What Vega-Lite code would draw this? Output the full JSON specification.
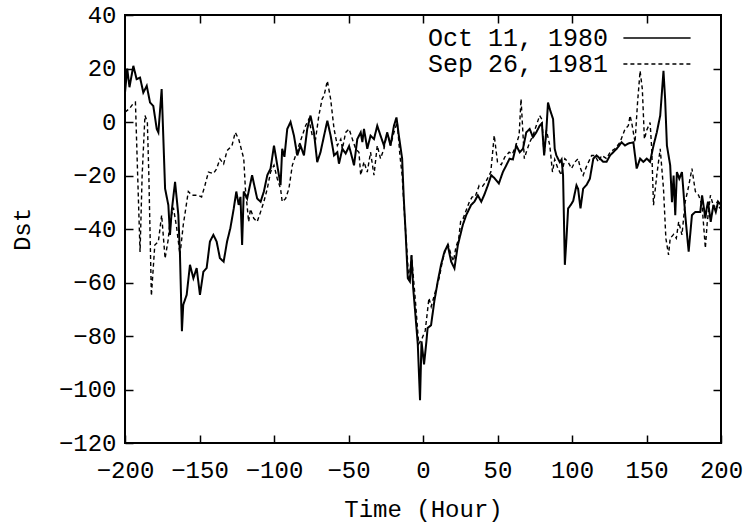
{
 "$schema": "https://vega.github.io/schema/vega-lite/v6.json",
 "width": 596, "height": 428,
 "autosize": {"type": "none"},
 "padding": {"left": 125, "top": 15, "right": 23, "bottom": 85},
 "background": "white",
 "config": {
  "view": {"stroke": "black", "strokeWidth": 2},
  "font": "Liberation Mono",
  "axis": {"domain": false, "grid": false, "tickSize": -8, "tickColor": "black", "tickWidth": 1.5,
           "labelFont": "Liberation Mono", "labelFontSize": 24, "labelColor": "black", "labelOverlap": false, "labelFlush": false,
           "titleFont": "Liberation Mono", "titleFontSize": 24, "titleFontWeight": "normal", "titleColor": "black"}
 },
 "datasets": {
  "oct": [
   {"t":-200,"v":11},{"t":-198.5,"v":20},{"t":-197,"v":13},{"t":-194.4,"v":21},{"t":-192.2,"v":16},{"t":-189.9,"v":16.6},{"t":-187.7,"v":11},{"t":-185.4,"v":13.5},{"t":-183.2,"v":7.3},{"t":-181,"v":6},{"t":-178.7,"v":-2.6},{"t":-177.6,"v":-3.9},{"t":-175.4,"v":12.3},{"t":-173.1,"v":-24.9},{"t":-170.9,"v":-31.1},{"t":-169.8,"v":-42.2},{"t":-168.7,"v":-33.6},{"t":-166.4,"v":-22.4},{"t":-164.2,"v":-34.8},{"t":-163.1,"v":-49.7},{"t":-161.8,"v":-78.2},{"t":-160.9,"v":-68.3},{"t":-158.6,"v":-64.6},{"t":-156.4,"v":-53.4},{"t":-154.1,"v":-58.4},{"t":-151.9,"v":-54.6},{"t":-149.7,"v":-64.6},{"t":-147.4,"v":-56},{"t":-145.2,"v":-54.6},{"t":-143,"v":-44.7},{"t":-140.7,"v":-42.2},{"t":-138.5,"v":-44.7},{"t":-136.3,"v":-50.9},{"t":-133.8,"v":-52.2},{"t":-131.5,"v":-44.7},{"t":-129.3,"v":-39.7},{"t":-127,"v":-32.3},{"t":-125.3,"v":-26},{"t":-123.7,"v":-31},{"t":-122.5,"v":-28},{"t":-121.4,"v":-46},{"t":-120.3,"v":-26},{"t":-118,"v":-28.6},{"t":-114.7,"v":-19.9},{"t":-111.3,"v":-28.6},{"t":-109,"v":-29.8},{"t":-106.8,"v":-26},{"t":-104.5,"v":-19.9},{"t":-102.3,"v":-17.4},{"t":-100,"v":-8.8},{"t":-97.8,"v":-16.2},{"t":-95.6,"v":-23.6},{"t":-94.5,"v":-10},{"t":-93,"v":-13},{"t":-91.1,"v":-2.6},{"t":-88.9,"v":0},{"t":-86.6,"v":-5.1},{"t":-84.4,"v":-12.5},{"t":-82.2,"v":-8.8},{"t":-79.9,"v":-12.5},{"t":-77.7,"v":-2.6},{"t":-75.5,"v":2.4},{"t":-73.2,"v":-3.9},{"t":-71,"v":-15},{"t":-68.8,"v":-11.3},{"t":-66.4,"v":-5.1},{"t":-64.2,"v":0.5},{"t":-62,"v":-5.1},{"t":-59.7,"v":-12.5},{"t":-57.5,"v":-11.3},{"t":-56.4,"v":-15.6},{"t":-54.1,"v":-10},{"t":-51.9,"v":-11.8},{"t":-49.6,"v":-9},{"t":-47.4,"v":-13.7},{"t":-46.3,"v":-16.2},{"t":-44.1,"v":-6.4},{"t":-41.8,"v":-3.9},{"t":-40.7,"v":-7.5},{"t":-39.6,"v":-2.6},{"t":-37.4,"v":-10},{"t":-35.2,"v":-5.1},{"t":-32.9,"v":-6.4},{"t":-30.7,"v":-1.4},{"t":-28.5,"v":-5.1},{"t":-26.2,"v":-8.8},{"t":-24,"v":-3.9},{"t":-21.8,"v":-8.8},{"t":-19.5,"v":-1.4},{"t":-17.8,"v":1.7},{"t":-16.2,"v":-5.1},{"t":-14,"v":-13.7},{"t":-12.9,"v":-28.6},{"t":-11.7,"v":-41},{"t":-10.2,"v":-58.4},{"t":-8.8,"v":-59.6},{"t":-7.7,"v":-49.7},{"t":-6.6,"v":-62},{"t":-5.1,"v":-72},{"t":-3.5,"v":-83},{"t":-2,"v":-104},{"t":-1,"v":-82},{"t":0.7,"v":-90.6},{"t":2.3,"v":-82},{"t":3.1,"v":-77},{"t":5.4,"v":-76},{"t":7.6,"v":-67},{"t":9.9,"v":-59.6},{"t":12.1,"v":-53.4},{"t":14.4,"v":-48.5},{"t":16.6,"v":-46},{"t":18.9,"v":-52.2},{"t":21.1,"v":-54.7},{"t":23.4,"v":-46},{"t":26.7,"v":-38.5},{"t":29,"v":-34.8},{"t":32.3,"v":-31},{"t":34.5,"v":-29.8},{"t":36.8,"v":-27.4},{"t":39.1,"v":-29.8},{"t":41.3,"v":-27},{"t":43.5,"v":-23.7},{"t":45.8,"v":-19.9},{"t":48,"v":-21},{"t":50.9,"v":-23},{"t":53.6,"v":-18.7},{"t":55.9,"v":-16.2},{"t":58.1,"v":-13.7},{"t":60.3,"v":-14},{"t":62.6,"v":-8.8},{"t":64.9,"v":-11.3},{"t":67.1,"v":-10},{"t":69.3,"v":-3.9},{"t":71.6,"v":-2.6},{"t":73.8,"v":-5.7},{"t":76,"v":-3.9},{"t":78.3,"v":-1.4},{"t":79.8,"v":-0.5},{"t":81.3,"v":-12.5},{"t":82.8,"v":-3},{"t":83.9,"v":7.3},{"t":85.1,"v":4.8},{"t":87.3,"v":1.1},{"t":88.4,"v":-10},{"t":89.5,"v":-12.5},{"t":91.8,"v":-15},{"t":93,"v":-14},{"t":94,"v":-19.9},{"t":95.2,"v":-53.4},{"t":96.3,"v":-43.5},{"t":97.4,"v":-32.3},{"t":99.2,"v":-31},{"t":100.8,"v":-29.5},{"t":103,"v":-23.7},{"t":104.1,"v":-25},{"t":105.7,"v":-32.3},{"t":107.5,"v":-24.9},{"t":109.8,"v":-23.5},{"t":112,"v":-21.2},{"t":114.3,"v":-13.7},{"t":116.5,"v":-12.5},{"t":118.8,"v":-13.7},{"t":121,"v":-14.9},{"t":123.2,"v":-14.9},{"t":125.5,"v":-12.5},{"t":127.7,"v":-11.3},{"t":130,"v":-10},{"t":133.3,"v":-7.6},{"t":135.6,"v":-8.8},{"t":138,"v":-8},{"t":141.2,"v":-7.6},{"t":143.4,"v":-17.4},{"t":145.7,"v":-13.7},{"t":147.9,"v":-14.9},{"t":150.2,"v":-13.7},{"t":152.4,"v":-14.9},{"t":154.7,"v":-8.8},{"t":156.9,"v":-3.9},{"t":159.2,"v":2.4},{"t":161.4,"v":19.1},{"t":162.5,"v":8.6},{"t":163.7,"v":-8.8},{"t":165.9,"v":-16.2},{"t":167.1,"v":-30},{"t":168.2,"v":-20},{"t":169.3,"v":-34.8},{"t":170.4,"v":-18.7},{"t":172,"v":-21.2},{"t":173.8,"v":-18.7},{"t":176,"v":-34.8},{"t":178.3,"v":-48.5},{"t":180.5,"v":-34.8},{"t":182.8,"v":-33.6},{"t":186.1,"v":-33.6},{"t":187.3,"v":-27.4},{"t":189.5,"v":-36},{"t":190.5,"v":-32},{"t":191.3,"v":-29.8},{"t":193.1,"v":-37.3},{"t":194.9,"v":-31},{"t":196.5,"v":-33.6},{"t":198.1,"v":-29.8},{"t":200,"v":-31}
  ],
  "sep": [
   {"t":-200,"v":3.7},{"t":-197,"v":5},{"t":-194.4,"v":7},{"t":-193,"v":7.4},{"t":-191.5,"v":-20},{"t":-189.9,"v":-48.6},{"t":-188.5,"v":-20},{"t":-186.6,"v":2.4},{"t":-185,"v":0},{"t":-184,"v":-20},{"t":-182.3,"v":-65},{"t":-180,"v":-46},{"t":-177.6,"v":-44.7},{"t":-175.4,"v":-34.8},{"t":-173.1,"v":-51},{"t":-171,"v":-44},{"t":-169.8,"v":-37},{"t":-167.5,"v":-32},{"t":-165.3,"v":-39.6},{"t":-163.1,"v":-49.7},{"t":-160.9,"v":-38.5},{"t":-157.5,"v":-26},{"t":-155.2,"v":-27.4},{"t":-150.8,"v":-27.4},{"t":-148.6,"v":-28},{"t":-146.3,"v":-23.6},{"t":-144,"v":-18.7},{"t":-140.7,"v":-19.3},{"t":-138.5,"v":-17.5},{"t":-136.3,"v":-13.8},{"t":-133.8,"v":-15.7},{"t":-131.5,"v":-10.7},{"t":-128.2,"v":-8.8},{"t":-126,"v":-3.9},{"t":-123.7,"v":-6.4},{"t":-121.4,"v":-11.3},{"t":-120.3,"v":-13.7},{"t":-119.2,"v":-24.9},{"t":-117,"v":-37.3},{"t":-115.8,"v":-32.5},{"t":-113.6,"v":-36},{"t":-111.3,"v":-37.3},{"t":-109,"v":-33.6},{"t":-106.8,"v":-29.8},{"t":-104.5,"v":-24.9},{"t":-102.3,"v":-18.7},{"t":-100,"v":-16.2},{"t":-97.8,"v":-21.2},{"t":-95.6,"v":-24.9},{"t":-94.5,"v":-29.8},{"t":-92.2,"v":-28.6},{"t":-90,"v":-24.9},{"t":-87.7,"v":-16.2},{"t":-85.5,"v":-12.5},{"t":-83.3,"v":-8.8},{"t":-81,"v":-5.1},{"t":-78.8,"v":-1.4},{"t":-76.6,"v":1.1},{"t":-74.3,"v":-5.1},{"t":-72.1,"v":-6.4},{"t":-69.9,"v":2.4},{"t":-67.7,"v":8.6},{"t":-66.4,"v":9.9},{"t":-64.2,"v":15.4},{"t":-62,"v":8.6},{"t":-59.7,"v":-2.6},{"t":-57.5,"v":-8.8},{"t":-55.2,"v":-6.4},{"t":-54.1,"v":-10},{"t":-51.9,"v":-3.9},{"t":-49.6,"v":-2.6},{"t":-47.4,"v":-6.4},{"t":-45.2,"v":-10},{"t":-43,"v":-11.3},{"t":-41.8,"v":-19.9},{"t":-39.6,"v":-14.9},{"t":-37.4,"v":-18.7},{"t":-35.2,"v":-11.3},{"t":-32.9,"v":-19.9},{"t":-30.7,"v":-8.8},{"t":-28.5,"v":-13.7},{"t":-26.2,"v":-10},{"t":-24,"v":-3.9},{"t":-21.8,"v":-8.8},{"t":-19.5,"v":-3.9},{"t":-17.3,"v":0},{"t":-15.5,"v":-12.5},{"t":-14,"v":-19.9},{"t":-12.4,"v":-34.8},{"t":-10.6,"v":-49.7},{"t":-9.5,"v":-59.6},{"t":-7.7,"v":-50},{"t":-5.1,"v":-66.8},{"t":-2.9,"v":-83},{"t":-0.5,"v":-80.7},{"t":1.5,"v":-78},{"t":4,"v":-65.8},{"t":5.5,"v":-69},{"t":8.5,"v":-63},{"t":11,"v":-58},{"t":13,"v":-52},{"t":15,"v":-48},{"t":17,"v":-46},{"t":19,"v":-50},{"t":20.5,"v":-52},{"t":22,"v":-47},{"t":24,"v":-43.5},{"t":25.3,"v":-37},{"t":27,"v":-36},{"t":29,"v":-33},{"t":31,"v":-30},{"t":33,"v":-28},{"t":35,"v":-28},{"t":37.7,"v":-23.7},{"t":40,"v":-24},{"t":42.1,"v":-22.4},{"t":45.5,"v":-18.7},{"t":47.8,"v":-5},{"t":50,"v":-15},{"t":52.5,"v":-16},{"t":55,"v":-13},{"t":57.8,"v":-11.3},{"t":60,"v":-12},{"t":62.3,"v":-8.8},{"t":64.5,"v":-5},{"t":65.8,"v":8.6},{"t":66.9,"v":-2.6},{"t":68,"v":-13.7},{"t":69.3,"v":-11.3},{"t":71.6,"v":-7.6},{"t":73.8,"v":-5.1},{"t":76,"v":-1.4},{"t":78.3,"v":2.4},{"t":79.8,"v":1},{"t":81.3,"v":-12.5},{"t":82.8,"v":-3},{"t":85.1,"v":-8.8},{"t":86.9,"v":-18.7},{"t":88.4,"v":-14},{"t":90.6,"v":-17.4},{"t":92.9,"v":-19.9},{"t":95.2,"v":-13.7},{"t":97.4,"v":-15},{"t":99.7,"v":-17.4},{"t":101.9,"v":-15},{"t":104.1,"v":-13.7},{"t":105.5,"v":-17},{"t":107.5,"v":-19.9},{"t":109.8,"v":-16.5},{"t":113.2,"v":-12.5},{"t":115.4,"v":-12.5},{"t":117.7,"v":-14.9},{"t":119.9,"v":-12.5},{"t":123.2,"v":-13.7},{"t":125.5,"v":-11.3},{"t":128.8,"v":-10},{"t":132.2,"v":-7.6},{"t":135.6,"v":-2.6},{"t":137.8,"v":-1.4},{"t":139,"v":2.4},{"t":140.3,"v":-1},{"t":142.3,"v":-7.6},{"t":144,"v":7.3},{"t":145.7,"v":19.1},{"t":147.2,"v":12.3},{"t":148.6,"v":-6.4},{"t":150.2,"v":-3},{"t":152.4,"v":-0.2},{"t":153.5,"v":-10},{"t":154.7,"v":-31.1},{"t":156.9,"v":-19.9},{"t":159.2,"v":-10},{"t":161.4,"v":-24.9},{"t":163,"v":-43.5},{"t":164.8,"v":-49.7},{"t":165.9,"v":-43.5},{"t":168.2,"v":-42},{"t":170,"v":-43.5},{"t":171.6,"v":-37.3},{"t":173.8,"v":-42.2},{"t":176,"v":-29.8},{"t":178.3,"v":-24},{"t":180.5,"v":-17.4},{"t":182.8,"v":-26},{"t":185,"v":-27.4},{"t":187.3,"v":-31.1},{"t":189.5,"v":-47.2},{"t":190.7,"v":-38},{"t":192.9,"v":-27.4},{"t":195.2,"v":-32},{"t":197.6,"v":-29.8},{"t":199.2,"v":-32.3}
  ]
 },
 "data": {"name": "oct"},
 "transform": [
  {"calculate": "'Oct 11, 1980'", "as": "s"}
 ],
 "layer": [
  {
   "data": {"name": "sep"},
   "transform": [{"calculate": "'Sep 26, 1981'", "as": "s"}],
   "mark": {"type": "line", "color": "black", "strokeWidth": 1.4, "clip": true},
   "encoding": {
    "x": {"field": "t", "type": "quantitative", "scale": {"domain": [-200, 200], "nice": false},
          "axis": {"orient": "bottom", "values": [-200,-150,-100,-50,0,50,100,150,200], "title": "Time (Hour)", "labelPadding": 23, "titlePadding": 15}},
    "y": {"field": "v", "type": "quantitative", "scale": {"domain": [-120, 40], "nice": false},
          "axis": {"orient": "left", "values": [-120,-100,-80,-60,-40,-20,0,20,40], "title": "Dst", "labelPadding": 17, "titlePadding": 24}},
    "strokeDash": {"field": "s", "type": "nominal",
          "scale": {"domain": ["Oct 11, 1980", "Sep 26, 1981"], "range": [[1, 0], [4, 3]]},
          "legend": {"orient": "none", "legendX": 519, "legendY": 10, "title": null, "padding": 0,
                     "symbolType": "M-2.8,0H2.8", "symbolSize": 576, "symbolStrokeColor": "black", "symbolStrokeWidth": 1.5,
                     "labelFont": "Liberation Mono", "labelFontSize": 25, "labelColor": "black",
                     "labelAlign": "right", "labelOffset": -62, "rowPadding": -2, "labelLimit": 400}}
   }
  },
  {
   "mark": {"type": "line", "color": "black", "strokeWidth": 2, "clip": true},
   "encoding": {
    "x": {"field": "t", "type": "quantitative",
          "axis": {"orient": "top", "values": [-150,-100,-50,0,50,100,150], "labels": false, "title": null, "tickSize": -8, "tickWidth": 1.5, "tickColor": "black"}},
    "y": {"field": "v", "type": "quantitative",
          "axis": {"orient": "right", "values": [-100,-80,-60,-40,-20,0,20], "labels": false, "title": null, "tickSize": -8, "tickWidth": 1.5, "tickColor": "black"}},
    "strokeDash": {"field": "s", "type": "nominal"}
   }
  }
 ],
 "resolve": {"axis": {"x": "independent", "y": "independent"}}
}
